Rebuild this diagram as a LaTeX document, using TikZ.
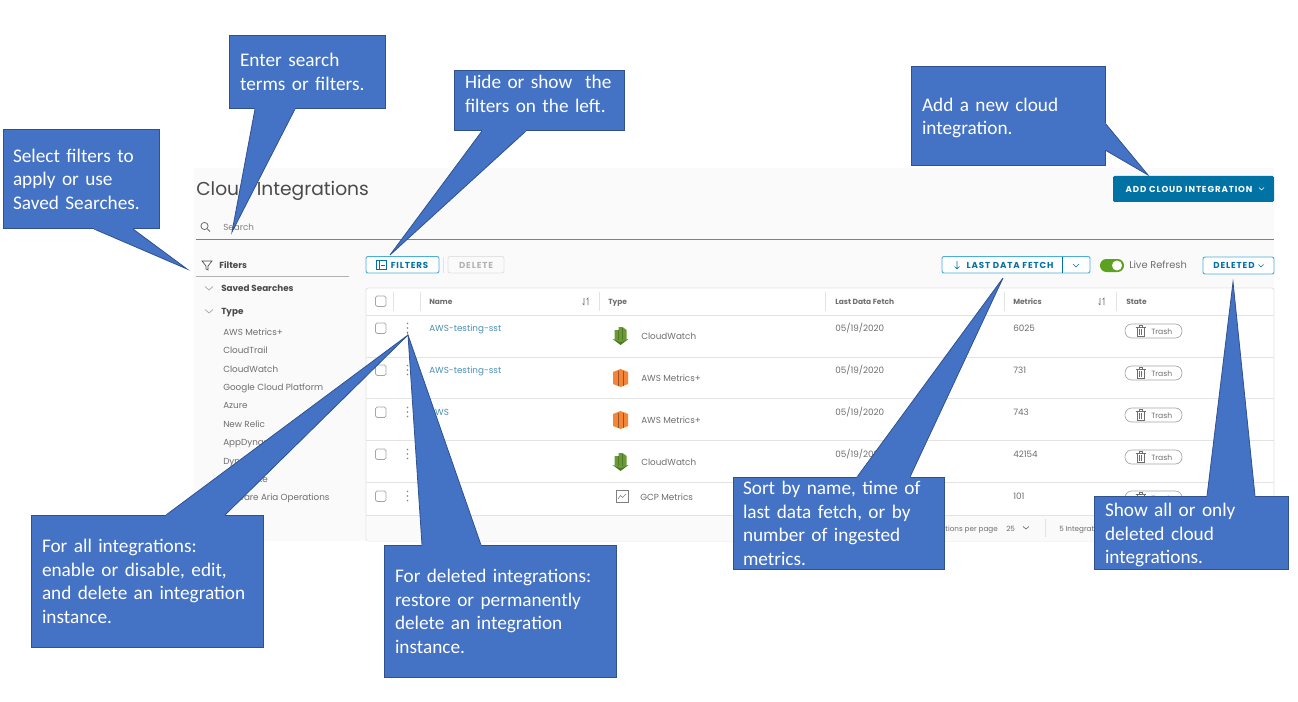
\documentclass[tikz,border=0pt]{standalone}
\usepackage{fontspec}
\setmainfont{Carlito}[WordSpace=.8]
\newfontfamily\uifont{Poppins}
\newfontfamily\btnfont[LetterSpace=10]{Poppins}
\usetikzlibrary{shapes}
\definecolor{calfill}{HTML}{4472C4}
\definecolor{calline}{HTML}{2F528F}
\definecolor{panelbg}{HTML}{FAFAFA}
\definecolor{rowline}{HTML}{E3E3E3}
\definecolor{uigray}{HTML}{6E6E6E}
\definecolor{uidark}{HTML}{4A4A4A}
\definecolor{linkblue}{HTML}{4A8FB3}
\definecolor{btnblue}{HTML}{0072A3}
\definecolor{btnline}{HTML}{49AFD9}
\definecolor{cwgreen}{HTML}{6A9A36}
\definecolor{cwdark}{HTML}{4E7A25}
\definecolor{awsorange}{HTML}{F58536}
\definecolor{awsdark}{HTML}{9D5025}
\definecolor{togglegreen}{HTML}{5AA220}
\tikzstyle{callout}=[draw=calline,fill=calfill,text=white,font=\fontsize{14.45}{17.6}\selectfont,align=left,inner xsep=8.25pt,inner ysep=0pt,line width=.6pt]
\tikzstyle{wedge}=[draw=calline,fill=calfill,line width=.6pt,line join=miter]
\tikzstyle{seam}=[draw=calfill,line width=1pt]
\tikzstyle{ui}=[anchor=west,inner sep=0pt,text=uigray,text height=5.4pt,text depth=.5pt,font=\uifont\fontsize{6.6}{8}\selectfont]
\tikzstyle{uib}=[ui,text=uidark,font=\uifont\bfseries\fontsize{6.6}{8}\selectfont]
\tikzstyle{colhd}=[ui,text=uigray,font=\uifont\bfseries\fontsize{5.6}{7}\selectfont]
\tikzstyle{lnk}=[ui,text=linkblue]
\tikzstyle{small}=[ui,font=\uifont\fontsize{5.4}{7}\selectfont]
\tikzstyle{btntxt}=[inner sep=0pt,font=\btnfont\bfseries\fontsize{6.5}{8}\selectfont]
\tikzstyle{chk}=[draw=gray!70,rounded corners=1.2pt,line width=.6pt,fill=white]
\tikzstyle{sep}=[draw=rowline,line width=.7pt]
\newcommand{\dotsicon}[2]{\fill[uigray!85] (#1,#2-4.5) circle (.9) (#1,#2) circle (.9) (#1,#2+4.5) circle (.9);}
\newcommand{\cwicon}[2]{%
\fill[cwdark] (#1-8,#2+3) -- (#1,#2+9) -- (#1+8,#2+3) -- (#1,#2+5) -- cycle;
\fill[cwgreen] (#1-6,#2-6) -- (#1-2,#2-6) -- (#1-2,#2-9) -- (#1+2,#2-9) -- (#1+6,#2-6) -- (#1+6,#2+4) -- (#1,#2+6) -- (#1-6,#2+4) -- cycle;
\draw[cwdark,line width=.4pt] (#1-2,#2-6) -- (#1-2,#2+4) (#1+2,#2-8) -- (#1+2,#2+4);}
\newcommand{\awsicon}[2]{%
\fill[awsorange] (#1-7.5,#2-6) -- (#1,#2-9) -- (#1+7.5,#2-6) -- (#1+7.5,#2+6) -- (#1,#2+9) -- (#1-7.5,#2+6) -- cycle;
\draw[awsdark,line width=.5pt] (#1-2.5,#2-7.5) -- (#1-2.5,#2+7.5) (#1+2.5,#2-7.5) -- (#1+2.5,#2+7.5);}
\newcommand{\trashbtn}[3]{%
\draw[draw=gray!70,fill=white,rounded corners=5pt,line width=.5pt] (1125,#2-7) rectangle (1182,#2+7);
\draw[uigray,line width=.4pt] (1135.5,#2-4) -- (1145.5,#2-4) (1139,#2-4) -- (1139,#2-5.5) -- (1142,#2-5.5) -- (1142,#2-4) (1137,#2-4) rectangle (1144,#2+5.5) (1139.3,#2-2) -- (1139.3,#2+4) (1141.7,#2-2) -- (1141.7,#2+4);
\node[small,font=\uifont\fontsize{5.7}{7}\selectfont] (#1) at (1151,#2) {#3};}
\begin{document}
\begin{tikzpicture}[x=.75pt,y=-.75pt]
\path[use as bounding box] (0,0) rectangle (1298,702);
% app screenshot
\fill[panelbg] (194,168) rectangle (1274,541);
\node[ui,text=uidark,text height=11pt,text depth=2.5pt,font=\uifont\fontsize{14}{16}\selectfont] (title) at (196,189.5) {Cloud Integrations};
\draw[uigray,line width=.6pt] (204.5,226) circle (3.6) (207,228.6) -- (210,231.5);
\node[ui,text=gray] (srch) at (223,227) {Search};
\draw[gray,line width=.7pt] (196,239) -- (1274,239);
\node[fill=btnblue,minimum width=120.75pt,minimum height=19.5pt,rounded corners=1pt,inner sep=0pt] (addbg) at (1193.5,189) {};
\node[btntxt,text=white] (addbtn) at (1189,189) {ADD CLOUD INTEGRATION};
\draw[white,line width=.5pt] (1259,187.5) -- (1261.5,190) -- (1264,187.5);
% filters column
\draw[uidark,line width=.5pt] (202,261) -- (212,261) -- (208,266) -- (208,270) -- (206,269) -- (206,266) -- cycle;
\node[uib] (flt) at (219,265) {Filters};
\draw[sep,draw=gray!60] (196,276.5) -- (349,276.5);
\draw[gray!70,line width=.5pt] (205,286.5) -- (209,290) -- (213,286.5) (205,309.5) -- (209,313) -- (213,309.5);
\node[uib] (saved) at (221,288) {Saved Searches};
\node[uib] (typ) at (221,311) {Type};
\node[ui] (t1) at (223,332) {AWS Metrics+};
\node[ui] (t2) at (223,350) {CloudTrail};
\node[ui] (t3) at (223,369) {CloudWatch};
\node[ui] (t4) at (223,387) {Google Cloud Platform};
\node[ui] (t5) at (223,405) {Azure};
\node[ui] (t6) at (223,424) {New Relic};
\node[ui] (t7) at (223,442) {AppDynamics};
\node[ui] (t8) at (223,461) {Dynatrace};
\node[ui] (t9) at (223,479) {Snowflake};
\node[ui] (t10) at (223,497) {VMware Aria Operations};
% toolbar
\draw[btnline,fill=white,rounded corners=1.5pt,line width=.7pt] (366,256.5) rectangle (439,273);
\draw[btnblue,line width=.5pt] (376,260.5) rectangle (386,269.5) (379.5,260.5) -- (379.5,269.5) (385,265) -- (381,265);
\node[btntxt,text=btnblue] (fbtn) at (409.5,265) {FILTERS};
\draw[sep] (443,257) -- (443,273);
\draw[rowline,rounded corners=1.5pt,line width=.7pt] (448,256.5) rectangle (504,273);
\node[btntxt,text=gray!60] (dbtn) at (476,265) {DELETE};
\draw[btnline,fill=white,rounded corners=1.5pt,line width=.7pt] (942,256.5) rectangle (1090,273);
\draw[btnblue,line width=.7pt] (1062.5,256.5) -- (1062.5,273);
\draw[btnblue,line width=.5pt] (957,261) -- (957,269) (954.5,266.5) -- (957,269) -- (959.5,266.5) (1073,264) -- (1076,267) -- (1079,264);
\node[btntxt,text=btnblue] (fetch) at (1010,265) {LAST DATA FETCH};
\fill[togglegreen,rounded corners=4.8pt] (1100,259) rectangle (1124,272);
\fill[white] (1117,265.5) circle (5);
\node[ui,font=\uifont\fontsize{7.4}{9}\selectfont] (live) at (1129,265.5) {Live Refresh};
\draw[btnline,fill=white,rounded corners=1.5pt,line width=.7pt] (1203,257) rectangle (1274,274);
\node[btntxt,text=btnblue] (delbtn) at (1234,265.5) {DELETED};
\draw[btnblue,line width=.5pt] (1258.5,264.5) -- (1261,267) -- (1263.5,264.5);
% table
\draw[sep,fill=white,rounded corners=1.5pt] (366,288) rectangle (1274,541);
\fill[panelbg] (366.5,515) rectangle (1273.5,540.5);
\draw[sep] (366,315) -- (1274,315) (366,357) -- (1274,357) (366,398) -- (1274,398) (366,440) -- (1274,440) (366,482) -- (1274,482) (366,515) -- (1274,515);
\draw[sep] (393,292) -- (393,311) (420,292) -- (420,311) (599,292) -- (599,311) (825,292) -- (825,311) (1004,292) -- (1004,311) (1116,292) -- (1116,311);
\draw[chk] (375.5,296) rectangle (386,306.5);
\draw[chk] (375.5,323) rectangle (386,333.5);
\draw[chk] (375.5,365) rectangle (386,375.5);
\draw[chk] (375.5,407) rectangle (386,417.5);
\draw[chk] (375.5,449) rectangle (386,459.5);
\draw[chk] (375.5,491) rectangle (386,501.5);
\node[colhd] (h1) at (429,301) {Name}; \node[colhd] (h2) at (608,301) {Type}; \node[colhd] (h3) at (835,301) {Last Data Fetch}; \node[colhd] (h4) at (1013,301) {Metrics}; \node[colhd] (h5) at (1126,301) {State};
\draw[uigray,line width=.45pt] (584,298) -- (584,305) (582.5,303.5) -- (584,305) (588,305) -- (588,298) -- (586.5,299.5) (1100,298) -- (1100,305) (1098.5,303.5) -- (1100,305) (1104,305) -- (1104,298) -- (1102.5,299.5);
\dotsicon{407.5}{328} \dotsicon{407.5}{370} \dotsicon{407.5}{412} \dotsicon{407.5}{454} \dotsicon{407.5}{496}
\node[lnk] (n1) at (429,328) {AWS-testing-sst};
\node[lnk] (n2) at (429,370) {AWS-testing-sst};
\node[lnk] (n3) at (429,412) {AWS};
\node[lnk] (n4) at (429,454) {AWS};
\cwicon{620.5}{336} \awsicon{620.5}{378} \awsicon{620.5}{420} \cwicon{620.5}{462}
\draw[gray,line width=.6pt] (616,490.5) rectangle (628,502);
\draw[gray,line width=.45pt] (618,499) -- (620.5,495.5) -- (622.5,497.5) -- (626,494);
\node[ui] (ty1) at (641,336) {CloudWatch};
\node[ui] (ty2) at (641,378) {AWS Metrics+};
\node[ui] (ty3) at (641,420) {AWS Metrics+};
\node[ui] (ty4) at (641,462) {CloudWatch};
\node[ui] (ty5) at (640,497) {GCP Metrics};
\node[ui] (d1) at (835,328) {05/19/2020};
\node[ui] (d2) at (835,370) {05/19/2020};
\node[ui] (d3) at (835,412) {05/19/2020};
\node[ui] (d4) at (835,454) {05/19/2020};
\node[ui] (m1) at (1013,328) {6025};
\node[ui] (m2) at (1013,370) {731};
\node[ui] (m3) at (1013,412) {743};
\node[ui] (m4) at (1013,454) {42154};
\node[ui] (m5) at (1013,496) {101};
\trashbtn{tr1}{331}{Trash} \trashbtn{tr2}{373}{Trash} \trashbtn{tr3}{415}{Trash} \trashbtn{tr4}{457}{Trash} \trashbtn{tr5}{498}{Trash}
\node[small,anchor=east] (perpg) at (998,528) {Integrations per page};
\node[small] (pg) at (1006,528) {25};
\draw[uigray,line width=.5pt] (1023,526.5) -- (1026,529) -- (1029,526.5);
\draw[sep] (1045,519) -- (1045,537);
\node[small] (total) at (1059,528) {5 Integrations};
% callouts
\coordinate (tipSearch) at (232,232);
\coordinate (tipHide) at (390,255);
\coordinate (tipSelect) at (187,269);
\coordinate (tipAdd) at (1148,175);
\coordinate (tipSort) at (1003,278);
\coordinate (tipShow) at (1233,282);
\coordinate (tipDots) at (408,335);
\node[callout,minimum width=116.25pt,minimum height=54.75pt,text width=100.5pt] (coSearch) at (307,72) {Enter search\\terms or filters.};
\node[callout,minimum width=126.75pt,minimum height=45pt,text width=111pt] (coHide) at (539,100.5) {Hide or show~ the\\filters on the left.\par\vspace*{9.8pt}};
\node[callout,minimum width=116.25pt,minimum height=74.25pt,inner xsep=7.5pt,text width=102pt] (coSelect) at (81,179) {Select filters to\\apply or use\\Saved Searches.};
\node[callout,minimum width=144.75pt,minimum height=74.25pt,text width=129pt] (coAdd) at (1008,116) {Add a new cloud\\integration.\par\vspace*{-3pt}};
\node[callout,minimum width=157.5pt,minimum height=69pt,inner xsep=7.5pt,text width=143.25pt] (coSort) at (838.5,523.5) {Sort by name, time of\\last data fetch, or by\\number of ingested\\metrics.};
\node[callout,minimum width=144.75pt,minimum height=54.75pt,text width=129pt] (coShow) at (1191,533) {Show all or only\\deleted cloud\\integrations.\par\vspace*{-3pt}};
\node[callout,minimum width=173.25pt,minimum height=99pt,text width=157.5pt] (coAll) at (147,581.5) {For all integrations:\\enable or disable, edit,\\and delete an integration\\instance.};
\node[callout,minimum width=173.25pt,minimum height=99pt,text width=157.5pt] (coDel) at (500,611.5) {For deleted integrations:\\restore or permanently\\delete an integration\\instance.};
\draw[wedge] (255,109) -- (tipSearch) -- (295,109);
\draw[seam] (255,109) -- (295,109);
\draw[wedge] (482,131) -- (tipHide) -- (526,131);
\draw[seam] (482,131) -- (526,131);
\draw[wedge] (94,229) -- (tipSelect) -- (133,229);
\draw[seam] (94,229) -- (133,229);
\draw[wedge] (1105,123) -- (tipAdd) -- (1105,150);
\draw[seam] (1105,123) -- (1105,150);
\draw[wedge] (857,477) -- (tipSort) -- (910,477);
\draw[seam] (857,477) -- (910,477);
\draw[wedge] (1207,496) -- (tipShow) -- (1255,496);
\draw[seam] (1207,496) -- (1255,496);
\draw[wedge] (166,515) -- (tipDots) -- (225,515);
\draw[seam] (166,515) -- (225,515);
\draw[wedge] (422,545) -- (tipDots) -- (481,545);
\draw[seam] (422,545) -- (481,545);
\end{tikzpicture}
\end{document}
